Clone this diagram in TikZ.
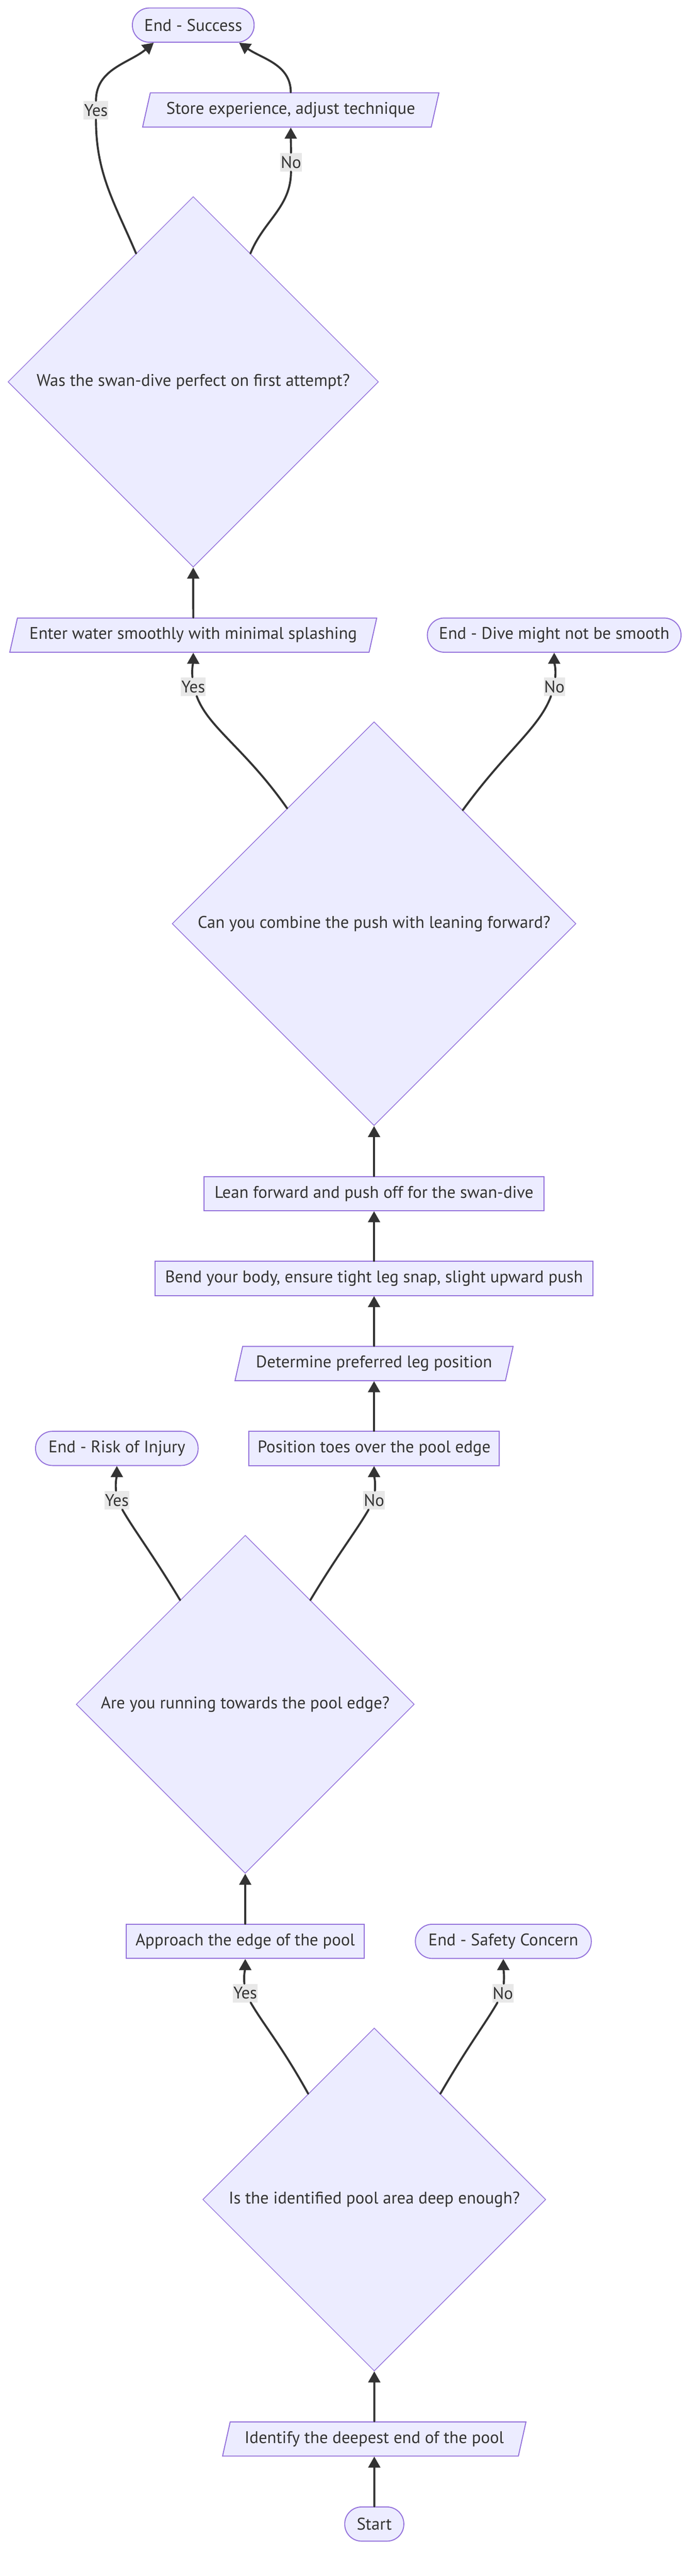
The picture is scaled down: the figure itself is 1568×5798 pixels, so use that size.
\documentclass[tikz,border=0pt]{standalone}
\usepackage{fontspec}
\setmainfont{PT Sans}
\usetikzlibrary{shapes.geometric,arrows.meta}

\begin{document}
\begin{tikzpicture}
	[x=1pt,y=1pt,line cap=round,
	%Styles
	base/.style={draw=nodeline,fill=nodefill,line width=2.2pt,text=edgeline,
		font=\fontsize{38}{45}\selectfont,minimum height=77pt,inner sep=0pt},
	process/.style={base,rectangle,minimum width=#1},
	terminal/.style={base,rectangle,rounded corners=38pt,minimum width=#1},
	io/.style={base,trapezium,trapezium left angle=63.7,trapezium right angle=116.3,
		trapezium stretches body,minimum width=#1},
	decision/.style={base,diamond,aspect=1,line width=1.6pt,minimum width=#1,minimum height=#1},
	answer/.style={fill=labelfill,text=edgeline,font=\fontsize{38}{45}\selectfont,
		inner xsep=1pt,inner ysep=0pt,minimum height=42pt},
	flow/.style={draw=edgeline,line width=4.5pt},
	arrow/.style={flow,-{Triangle[length=25pt,width=27pt]}},
	branch/.style={out looseness=1.3,in looseness=0.6}
	]
	
	%Colors
	\definecolor{nodefill}{HTML}{ECECFF}
	\definecolor{nodeline}{HTML}{9370DB}
	\definecolor{edgeline}{HTML}{333333}
	\definecolor{labelfill}{HTML}{E8E8E8}
	
	\useasboundingbox (0,0) rectangle (1568,-5798);
	
	%The graphic
	\node[terminal=274pt] (success) at (435,-56.5) {End - Success};
	\node[io=667pt] (store) at (654.5,-247.5) {Store experience, adjust technique};
	\node[decision=834pt] (perfect) at (435,-859.5) {Was the swan-dive perfect on first attempt?};
	\node[io=826pt] (enter) at (435,-1429.5) {Enter water smoothly with minimal splashing};
	\node[terminal=571pt] (notsmooth) at (1247.5,-1429.5) {End - Dive might not be smooth};
	\node[decision=909pt] (combine) at (842,-2079) {Can you combine the push with leaning forward?};
	\node[process=766pt] (lean) at (842,-2686.5) {Lean forward and push off for the swan-dive};
	\node[process=986pt] (bend) at (842,-2877.5) {Bend your body, ensure tight leg snap, slight upward push};
	\node[io=626pt] (leg) at (842,-3069) {Determine preferred leg position};
	\node[process=563pt] (toes) at (842,-3260) {Position toes over the pool edge};
	\node[terminal=366pt] (injury) at (263,-3260) {End - Risk of Injury};
	\node[decision=761pt] (running) at (552,-3836) {Are you running towards the pool edge?};
	\node[process=536pt] (approach) at (552,-4369.5) {Approach the edge of the pool};
	\node[terminal=396pt] (safety) at (1133,-4369.5) {End - Safety Concern};
	\node[decision=772pt] (deep) at (842.5,-4950.5) {Is the identified pool area deep enough?};
	\node[io=683pt] (deepest) at (842.5,-5489.5) {Identify the deepest end of the pool};
	\node[terminal=133pt] (start) at (842.5,-5681) {Start};
	
	\node[answer] (yes1) at (216,-248) {Yes};
	\node[answer] (no1) at (655,-365) {No};
	\node[answer] (yes2) at (435,-1545.5) {Yes};
	\node[answer] (no2) at (1248,-1545.5) {No};
	\node[answer] (yes3) at (263,-3376.5) {Yes};
	\node[answer] (no3) at (842,-3376.5) {No};
	\node[answer] (yes4) at (552,-4486) {Yes};
	\node[answer] (no4) at (1132,-4486) {No};
	
	\draw[arrow] (start) -- (deepest);
	\draw[arrow] (deepest) -- (deep);
	\draw[flow] (deep.122) to[branch,out=119,in=-60] (yes4);
	\draw[arrow] (yes4) to[out=95,in=-90] (approach);
	\draw[flow] (deep.58) to[branch,out=60,in=-120] (no4);
	\draw[arrow] (no4) to[out=85,in=-90] (safety);
	\draw[arrow] (approach) -- (running);
	\draw[flow] (running.122) to[branch,out=121,in=-60] (yes3);
	\draw[arrow] (yes3) to[out=95,in=-90] (injury);
	\draw[flow] (running.58) to[branch,out=59,in=-120] (no3);
	\draw[arrow] (no3) to[out=85,in=-90] (toes);
	\draw[arrow] (toes) -- (leg);
	\draw[arrow] (leg) -- (bend);
	\draw[arrow] (bend) -- (lean);
	\draw[arrow] (lean) -- (combine);
	\draw[flow] (combine.127) to[branch,out=125,in=-70] (yes2);
	\draw[arrow] (yes2) to[out=95,in=-90] (enter);
	\draw[flow] (combine.52) to[branch,out=54,in=-110] (no2);
	\draw[arrow] (no2) to[out=85,in=-90] (notsmooth);
	\draw[arrow] (enter) -- (perfect);
	\draw[flow] (perfect.114) to[out=113,in=-90] (yes1);
	\draw[arrow] (yes1) to[out=90,in=-140] (success.-156);
	\draw[flow] (perfect.66) to[out=68,in=-90] (no1);
	\draw[arrow] (no1) to[out=90,in=-90] (store);
	\draw[arrow] (store) to[out=90,in=-35] (success.-21);
\end{tikzpicture}
\end{document}
